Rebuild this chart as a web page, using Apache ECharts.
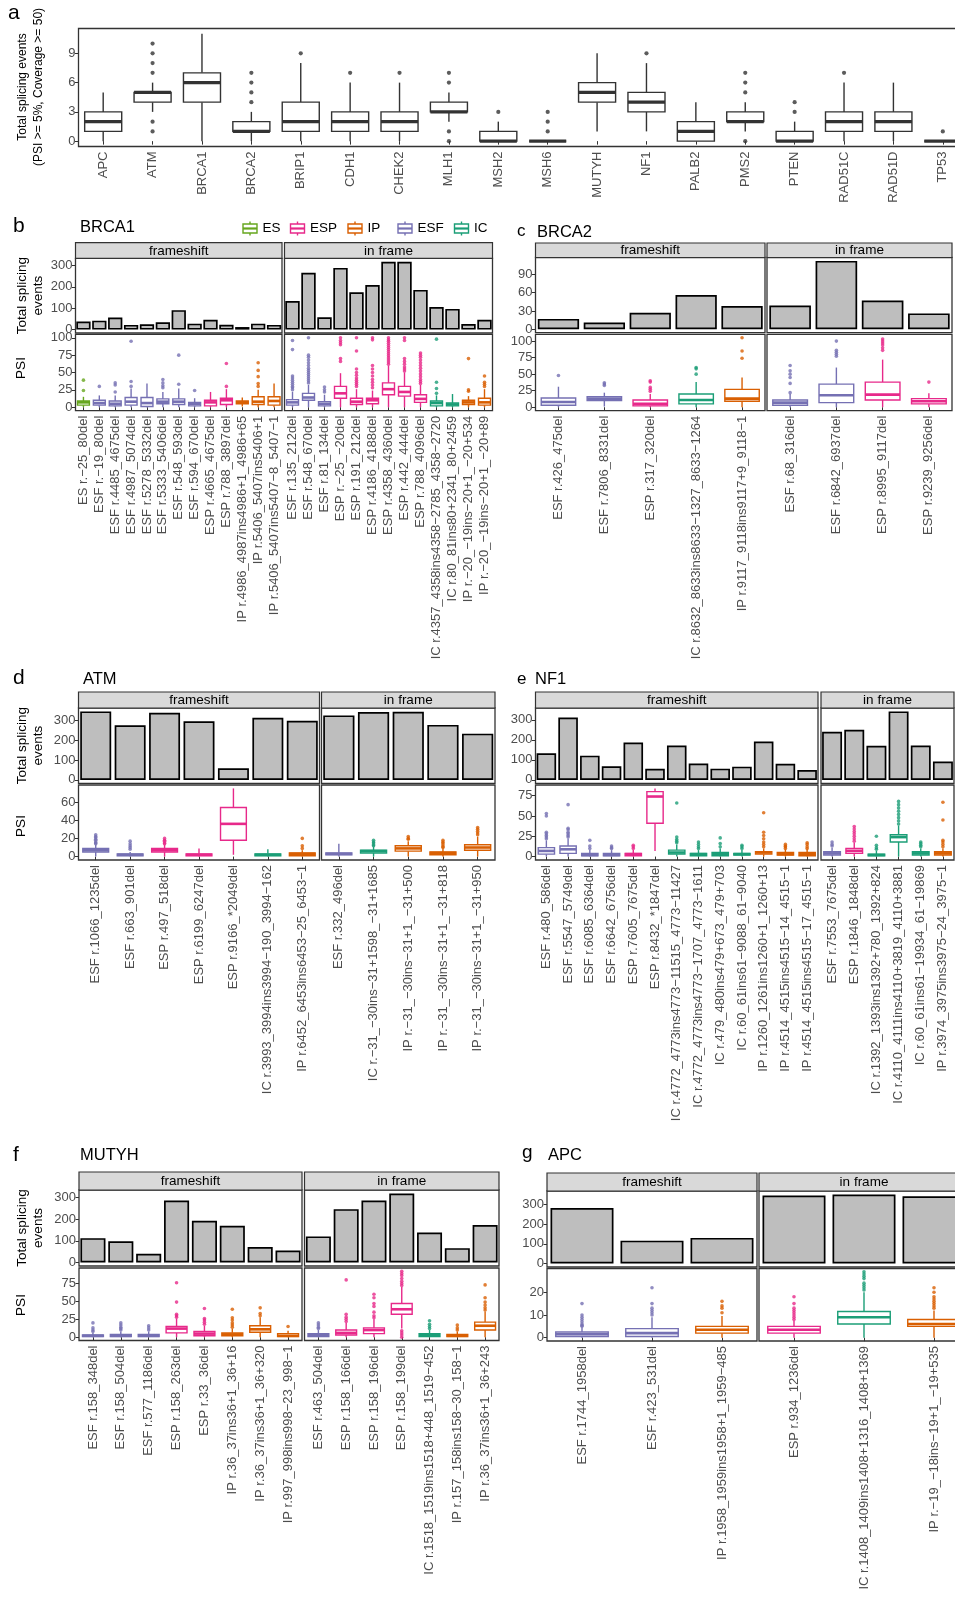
<!DOCTYPE html>
<html><head><meta charset="utf-8">
<script src="https://cdn.jsdelivr.net/npm/echarts@6/dist/echarts.min.js"></script>
<style>html,body{margin:0;padding:0;background:#fff}#c{width:955px;height:1600px}</style>
</head><body><div id="c"></div>
<script>
// ---------------- DATA ----------------
// Panel a
const aGenes = ['APC','ATM','BRCA1','BRCA2','BRIP1','CDH1','CHEK2','MLH1','MSH2','MSH6','MUTYH','NF1','PALB2','PMS2','PTEN','RAD51C','RAD51D','TP53'];
const aBoxes = [[0,1,2,3,5],[3,4,5,5,6],[0,4,6,7,11],[0,1,1,2,3],[0,1,2,4,8],[0,1,2,3,6],[0,1,2,3,6],[2,3,3,4,5],[0,0,0,1,2],[0,0,0,0,0],[1,4,5,6,9],[1,3,4,5,8],[0,0,1,2,4],[1,2,2,3,4],[0,0,0,1,2],[0,1,2,3,6],[0,1,2,3,6],[0,0,0,0,0]];
const aOutliers = [[],[1,2,7,8,9,10],[],[4,5,6,7],[9],[7],[7],[0,1,6,7],[3],[1,2,3],[],[9],[],[0,5,6,7],[3,4],[7],[],[1]];
const aTicks = [0,3,6,9];

// Panel b: BRCA1
const brca1FsLabels = ['ES r.−25_80del','ESF r.−19_80del','ESF r.4485_4675del','ESF r.4987_5074del','ESF r.5278_5332del','ESF r.5333_5406del','ESF r.548_593del','ESF r.594_670del','ESP r.4665_4675del','ESP r.788_3897del','IP r.4986_4987ins4986+1_4986+65','IP r.5406_5407ins5406+1','IP r.5406_5407ins5407−8_5407−1'];
const brca1FsTotals = [38,42,57,22,25,34,91,28,46,23,12,28,22];
const brca1FsBoxes = [[0,3,7,9,15],[0,3,6,10,17],[0,2,5,9,17],[0,3,8,14,27],[0,1,6,14,34],[0,5,8,12,22],[0,4,8,12,27],[0,2,5,7,13],[0,2,7,10,22],[0,4,10,13,26],[1,5,7,9,14],[0,4,8,15,25],[0,3,9,15,34]];
const brca1FsOutliers = [[24,39],[30],[22,32,35],[30,37,95],[],[28,31,35,40],[33,75],[24],[],[30,63],[],[30,34,44,53,64],[]];
const brca1IfLabels = ['ESF r.135_212del','ESF r.548_670del','ESF r.81_134del','ESP r.−25_−20del','ESP r.191_212del','ESP r.4186_4188del','ESP r.4358_4360del','ESP r.442_444del','ESP r.788_4096del','IC r.4357_4358ins4358−2785_4358−2720','IC r.80_81ins80+2341_80+2459','IP r.−20_−19ins−20+1_−20+534','IP r.−20_−19ins−20+1_−20+89'];
const brca1IfTotals = [134,266,58,289,175,209,318,318,186,106,97,26,46];
const brca1IfBoxes = [[0,3,7,11,22],[0,10,14,20,32],[0,2,5,8,18],[0,13,20,30,49],[0,4,8,13,26],[0,5,10,13,24],[0,18,26,35,60],[0,16,22,30,50],[0,7,12,18,32],[0,2,6,9,17],[0,2,4,6,19],[0,4,7,10,16],[0,3,7,13,26]];
const brca1IfOutliers = [[25,28,30,33,36,39,42,45,83,96],[35,38,41,44,47,50,53,56,60,64,68,72,75,100],[22,25,29],[66,70,90,93,96,100],[30,33,36,39,42,46,50,55,81,100],[28,32,36,40,45,50,55,60,97,100],[62,65,68,71,74,77,80,83,86,89,92,95,97,100],[52,55,58,62,66,70,96,100],[34,37,40,44,48,52,56,60,64,68,72,75,78],[20,27,36,98],[],[23,25,70],[30,33,36,45]];

// Panel c: BRCA2
const brca2FsLabels = ['ESF r.426_475del','ESF r.7806_8331del','ESP r.317_320del','IC r.8632_8633ins8633−1327_8633−1264','IP r.9117_9118ins9117+9_9118−1'];
const brca2FsTotals = [17,11,27,56,38];
const brca2FsBoxes = [[0,3,8,14,31],[1,10,13,16,22],[0,2,5,11,20],[0,5,11,20,38],[0,9,13,27,45]];
const brca2FsOutliers = [[48],[33,35,37],[24,27,30,38,40],[50,58,60],[74,85,105]];
const brca2IfLabels = ['ESF r.68_316del','ESF r.6842_6937del','ESP r.8995_9117del','ESP r.9239_9256del'];
const brca2IfTotals = [39,112,47,26];
const brca2IfBoxes = [[0,3,7,11,20],[0,7,18,35,60],[0,11,19,38,72],[0,5,9,13,21]];
const brca2IfOutliers = [[22,36,45,50,55,63],[77,80,83,86,100],[86,90,94,97,100,103],[38]];

// Panel d: ATM
const atmFsLabels = ['ESF r.1066_1235del','ESF r.663_901del','ESP r.497_518del','ESP r.6199_6247del','ESP r.9166_*2049del','IC r.3993_3994ins3994−190_3994−162','IP r.6452_6453ins6453−25_6453−1'];
const atmFsTotals = [345,275,338,295,58,313,298];
const atmFsBoxes = [[0,5,7,9,13],[0,1,2,3,5],[0,5,7,9,13],[0,1,2,3,9],[2,18,36,54,75],[0,1,2,3,8],[0,1,3,4,7]];
const atmFsOutliers = [[14,15,16,18,19,21,22,24],[8,10,12,14,17],[14,15,17,18,20],[],[],[],[9,12,20]];
const atmIfLabels = ['ESF r.332_496del','IC r.−31_−30ins−31+1598_−31+1685','IP r.−31_−30ins−31+1_−31+500','IP r.−31_−30ins−31+1_−31+818','IP r.−31_−30ins−31+1_−31+950'];
const atmIfTotals = [325,342,343,277,233];
const atmIfBoxes = [[0,2,3,4,14],[0,4,6,7,11],[0,6,9,12,17],[0,2,4,5,9],[0,7,10,13,22]];
const atmIfOutliers = [[],[12,13,15,16,18],[19,20,22],[10,11,13,15,16,18],[24,26,28,30,32]];

// Panel e: NF1
const nf1FsLabels = ['ESF r.480_586del','ESF r.5547_5749del','ESF r.6085_6364del','ESF r.6642_6756del','ESP r.7605_7675del','ESP r.8432_*1847del','IC r.4772_4773ins4773−11515_4773−11427','IC r.4772_4773ins4773−1707_4773−1611','IC r.479_480ins479+673_479+703','IC r.60_61ins61−9088_61−9040','IP r.1260_1261ins1260+1_1260+13','IP r.4514_4515ins4515−14_4515−1','IP r.4514_4515ins4515−17_4515−1'];
const nf1FsTotals = [133,312,121,68,187,55,172,82,56,66,192,80,49];
const nf1FsBoxes = [[0,3,7,11,20],[0,4,9,13,22],[0,1,2,4,8],[0,1,2,4,8],[0,1,3,4,8],[7,41,74,80,84],[0,3,5,8,15],[0,1,3,4,8],[0,1,3,5,10],[0,2,3,4,8],[0,3,5,6,10],[0,2,3,5,9],[0,1,3,5,9]];
const nf1FsOutliers = [[22,24,26,28,30,50,53],[24,26,28,30,33,35,64],[10,13,20],[10,11,13],[10,12,14],[],[17,19,21,24,66],[10,12,15,18],[12,16,23],[10,12,14],[12,15,18,22,26,30,54],[10,12,13,15],[10,12,15,17]];
const nf1IfLabels = ['ESF r.7553_7675del','ESP r.1846_1848del','IC r.1392_1393ins1392+780_1392+824','IC r.4110_4111ins4110+3819_4110+3881','IC r.60_61ins61−19934_61−19869','IP r.3974_3975ins3975−24_3975−1'];
const nf1IfTotals = [240,250,170,342,172,92];
const nf1IfBoxes = [[0,2,4,6,11],[0,4,7,10,17],[0,1,2,3,7],[0,18,24,27,38],[0,2,4,6,10],[0,2,4,6,10]];
const nf1IfOutliers = [[13,15,18],[19,22,25,28,31,34,37],[9,11,14,25],[40,44,48,52,56,60,64,68],[12,14,16,18],[12,15,18,20,45,67]];

// Panel f: MUTYH
const mutyhFsLabels = ['ESF r.158_348del','ESF r.158_504del','ESF r.577_1186del','ESP r.158_263del','ESP r.33_36del','IP r.36_37ins36+1_36+16','IP r.36_37ins36+1_36+320','IP r.997_998ins998−23_998−1'];
const mutyhFsTotals = [112,98,40,285,192,169,71,55];
const mutyhFsBoxes = [[0,1,2,3,6],[0,1,2,4,8],[0,1,2,4,8],[0,6,12,15,26],[0,2,5,8,16],[0,2,4,6,12],[0,7,11,16,28],[0,1,2,5,9]];
const mutyhFsOutliers = [[8,10,13,20],[10,12,14,17,20],[10,13,16],[28,30,32,49,76],[18,21,24,26,40],[14,17,20,24,27,39],[30,33,41],[15]];
const mutyhIfLabels = ['ESF r.463_504del','ESP r.158_166del','ESP r.158_196del','ESP r.158_199del','IC r.1518_1519ins1518+448_1519−452','IP r.157_158ins158−30_158−1','IP r.36_37ins36+1_36+243'];
const mutyhIfTotals = [120,245,285,317,138,66,172];
const mutyhIfBoxes = [[0,1,3,5,10],[0,3,6,10,20],[0,5,10,13,25],[12,32,39,47,70],[0,1,3,5,10],[0,1,2,4,8],[0,10,16,21,36]];
const mutyhIfOutliers = [[12,14,17,20],[22,25,28,32,80],[27,30,35,43,47,55,60],[0,3,6,9,72,75,78,82,86,89,92],[12,15,18,23],[10,13,17],[38,41,45,49,55,73]];

// Panel g: APC
const apcFsLabels = ['ESF r.1744_1958del','ESF r.423_531del','IP r.1958_1959ins1958+1_1959−485'];
const apcFsTotals = [281,116,130];
const apcFsBoxes = [[0,0.5,1.5,2.5,4.5],[0,0.5,2,4,9],[0,2,3.5,5,9.5]];
const apcFsOutliers = [[5,5.5,6,7,8,9,10,15],[10,11,12,13,15,22],[11,13,14,16]];
const apcIfLabels = ['ESP r.934_1236del','IC r.1408_1409ins1408+1316_1408+1369','IP r.−19_−18ins−19+1_−19+535'];
const apcIfTotals = [345,350,341];
const apcIfBoxes = [[0,2,3.5,5,7.5],[0,6,9,11.5,20],[0,5,6,8,12]];
const apcIfOutliers = [[8,9,10,11,12,13,15,18],[21,22,23,24,26,27,28,29],[13,14,15,16,17,18,20,22]];

// tick labels
const countTicks = [0,100,200,300];
const brca2CountTicks = [0,30,60,90];
const psiTicks100 = [0,25,50,75,100];
const atmPsiTicks = [0,20,40,60];
const psiTicks75 = [0,25,50,75];
const apcPsiTicks = [0,10,20];
const facetNames = ['frameshift','in frame'];
const legendTypes = ['ES','ESP','IP','ESF','IC'];

// ---------------- BUILD ----------------
const FONT = '"Liberation Sans", Arial, sans-serif';
const TYPE_COLORS = {ES:'#66A61E', ESP:'#E7298A', IP:'#D95F02', ESF:'#7570B3', IC:'#1B9E77'};
const typeOf = l => l.split(' ')[0];
const grids = [], xAxes = [], yAxes = [], series = [], graphics = [];

function boxRenderer(frac, lw, medLw) {
  return function (params, api) {
    const i = api.value(0);
    const col = api.visual('color');
    const pMin = api.coord([i, api.value(1)]);
    const pQ1 = api.coord([i, api.value(2)]);
    const pMed = api.coord([i, api.value(3)]);
    const pQ3 = api.coord([i, api.value(4)]);
    const pMax = api.coord([i, api.value(5)]);
    const bw = api.size([1, 0])[0] * frac;
    const x = pQ1[0];
    return { type: 'group', children: [
      { type: 'line', shape: { x1: x, y1: pMin[1], x2: x, y2: pQ1[1] }, style: { stroke: col, lineWidth: lw } },
      { type: 'line', shape: { x1: x, y1: pQ3[1], x2: x, y2: pMax[1] }, style: { stroke: col, lineWidth: lw } },
      { type: 'rect', shape: { x: x - bw / 2, y: pQ3[1], width: bw, height: pQ1[1] - pQ3[1] }, style: { fill: '#fff', stroke: col, lineWidth: lw } },
      { type: 'line', shape: { x1: x - bw / 2, y1: pMed[1], x2: x + bw / 2, y2: pMed[1] }, style: { stroke: col, lineWidth: medLw } }
    ]};
  };
}

function addGrid(left, top, width, height) {
  grids.push({ left, top, width, height, show: true, borderColor: '#333', borderWidth: 1.3,
    backgroundColor: 'transparent', containLabel: false, outerBoundsMode: 'none' });
  return grids.length - 1;
}

function valueAxis(gi, range, ticks, showLabels, fs) {
  return { gridIndex: gi, type: 'value', min: range[0], max: range[1], scale: false,
    splitLine: { show: false }, axisLine: { show: false },
    axisTick: { show: showLabels, length: 3.5, customValues: ticks, lineStyle: { color: '#333', width: 1 } },
    axisLabel: { show: showLabels, customValues: ticks, fontSize: fs, color: '#4D4D4D', margin: 3, fontFamily: FONT } };
}

function addText(text, x, y, size, o) {
  o = o || {};
  graphics.push({ type: 'text', x, y, rotation: o.rot || 0, silent: true,
    style: { text, font: size + 'px ' + FONT, fill: o.color || '#000', align: o.align || 'left',
      verticalAlign: 'middle', lineHeight: o.lh || size * 1.2 } });
}

function addFacet(f, p, barRange, psiRange, first, k) {
  const gb = addGrid(f.x, p.bar[0], f.w, p.bar[1] - p.bar[0]);
  xAxes.push({ gridIndex: gb, type: 'category', data: f.labels, axisLine: { show: false }, axisTick: { show: false }, axisLabel: { show: false } });
  yAxes.push(valueAxis(gb, barRange, p.barTicks, first, 13));
  series.push({ type: 'bar', xAxisIndex: gb, yAxisIndex: gb, data: f.totals, barCategoryGap: '10%', silent: true,
    itemStyle: { color: '#BEBEBE', borderColor: '#000', borderWidth: 1.7 } });

  const gp = addGrid(f.x, p.psi[0], f.w, p.psi[1] - p.psi[0]);
  xAxes.push({ gridIndex: gp, type: 'category', data: f.labels, axisLine: { show: false },
    axisTick: { show: true, alignWithLabel: true, length: 3.5, lineStyle: { color: '#333', width: 1 } },
    axisLabel: { interval: 0, rotate: 90, fontSize: 13, color: '#4D4D4D', margin: 5, fontFamily: FONT } });
  yAxes.push(valueAxis(gp, psiRange, p.psiTicks, first, 13));
  const pts = [];
  f.outliers.forEach((arr, i) => arr.forEach(v => pts.push({ value: [i, v], itemStyle: { color: TYPE_COLORS[typeOf(f.labels[i])] } })));
  series.push({ type: 'scatter', xAxisIndex: gp, yAxisIndex: gp, data: pts, symbolSize: 3.6, silent: true });
  series.push({ type: 'custom', xAxisIndex: gp, yAxisIndex: gp, renderItem: boxRenderer(0.75, 1.4, 2.6), silent: true,
    encode: { x: 0, y: [1, 2, 3, 4, 5] },
    data: f.boxes.map((b, i) => ({ value: [i].concat(b), itemStyle: { color: TYPE_COLORS[typeOf(f.labels[i])] } })) });

  graphics.push({ type: 'rect', silent: true, shape: { x: f.x, y: p.strip[0], width: f.w, height: p.strip[1] - p.strip[0] },
    style: { fill: '#D9D9D9', stroke: '#333', lineWidth: 1.2 } });
  addText(facetNames[k], f.x + f.w / 2, (p.strip[0] + p.strip[1]) / 2 + 0.5, 13.5, { align: 'center' });
}

function addPanel(p) {
  const all = [p.fs, p.inf];
  const barMax = Math.max(...all.flatMap(f => f.totals));
  const psiMax = Math.max(...all.flatMap(f => f.boxes.map(b => b[4]).concat(f.outliers.flat())));
  const barRange = [-0.05 * barMax, 1.05 * barMax];
  const psiRange = [-0.05 * psiMax, 1.05 * psiMax];
  all.forEach((f, k) => addFacet(f, p, barRange, psiRange, k === 0, k));
  addText(p.letter, p.letterPos[0], p.letterPos[1], p.letterSize);
  addText(p.title, p.titlePos[0], p.titlePos[1], 16.5);
  if (p.yTitles) {
    addText('Total splicing\nevents', 30, (p.bar[0] + p.bar[1]) / 2, 13.5, { rot: Math.PI / 2, align: 'center', lh: 16.3 });
    addText('PSI', 21.7, p.psiTitleY, 13.5, { rot: Math.PI / 2, align: 'center' });
  }
}

// Panel a
(function () {
  const g = addGrid(78.5, 28.5, 889, 118);
  xAxes.push({ gridIndex: g, type: 'category', data: aGenes, axisLine: { show: false },
    axisTick: { show: true, alignWithLabel: true, length: 3.5, lineStyle: { color: '#333' } },
    axisLabel: { interval: 0, rotate: 90, fontSize: 13, color: '#4D4D4D', margin: 5, fontFamily: FONT } });
  const m = Math.max(...aBoxes.map(b => b[4]).concat(aOutliers.flat()));
  yAxes.push(valueAxis(g, [-0.05 * m, 1.05 * m], aTicks, true, 13));
  const pts = [];
  aOutliers.forEach((arr, i) => arr.forEach(v => pts.push([i, v])));
  series.push({ type: 'scatter', xAxisIndex: g, yAxisIndex: g, data: pts, symbolSize: 4.2, itemStyle: { color: '#333' }, silent: true });
  series.push({ type: 'custom', xAxisIndex: g, yAxisIndex: g, renderItem: boxRenderer(0.75, 1.4, 3.2), silent: true,
    encode: { x: 0, y: [1, 2, 3, 4, 5] }, itemStyle: { color: '#333' },
    data: aBoxes.map((b, i) => [i].concat(b)) });
  addText('a', 8, 13, 21);
  addText('Total splicing events\n(PSI >= 5%, Coverage >= 50)', 30.5, 87, 12, { rot: Math.PI / 2, align: 'center', lh: 16 });
})();

addPanel({ letter: 'b', letterPos: [13, 226], letterSize: 21, title: 'BRCA1', titlePos: [80, 227],
  fs: { labels: brca1FsLabels, totals: brca1FsTotals, boxes: brca1FsBoxes, outliers: brca1FsOutliers, x: 75.5, w: 206.5 },
  inf: { labels: brca1IfLabels, totals: brca1IfTotals, boxes: brca1IfBoxes, outliers: brca1IfOutliers, x: 284.5, w: 208 },
  strip: [242.7, 258.3], bar: [258.3, 333], psi: [334.3, 410.7], barTicks: countTicks, psiTicks: psiTicks100,
  yTitles: true, psiTitleY: 368 });
addPanel({ letter: 'c', letterPos: [517, 231], letterSize: 17, title: 'BRCA2', titlePos: [537, 232],
  fs: { labels: brca2FsLabels, totals: brca2FsTotals, boxes: brca2FsBoxes, outliers: brca2FsOutliers, x: 535.5, w: 229.5 },
  inf: { labels: brca2IfLabels, totals: brca2IfTotals, boxes: brca2IfBoxes, outliers: brca2IfOutliers, x: 767, w: 185 },
  strip: [243, 257.5], bar: [257.5, 332.7], psi: [334.3, 410.7], barTicks: brca2CountTicks, psiTicks: psiTicks100,
  yTitles: false });
addPanel({ letter: 'd', letterPos: [13, 678], letterSize: 21, title: 'ATM', titlePos: [83, 679],
  fs: { labels: atmFsLabels, totals: atmFsTotals, boxes: atmFsBoxes, outliers: atmFsOutliers, x: 78.5, w: 241 },
  inf: { labels: atmIfLabels, totals: atmIfTotals, boxes: atmIfBoxes, outliers: atmIfOutliers, x: 321.5, w: 173.5 },
  strip: [692, 708], bar: [708, 783.3], psi: [785, 860], barTicks: countTicks, psiTicks: atmPsiTicks,
  yTitles: true, psiTitleY: 826 });
addPanel({ letter: 'e', letterPos: [517, 679], letterSize: 17, title: 'NF1', titlePos: [535, 679],
  fs: { labels: nf1FsLabels, totals: nf1FsTotals, boxes: nf1FsBoxes, outliers: nf1FsOutliers, x: 535.5, w: 282.5 },
  inf: { labels: nf1IfLabels, totals: nf1IfTotals, boxes: nf1IfBoxes, outliers: nf1IfOutliers, x: 821, w: 133 },
  strip: [692, 708], bar: [708, 783.3], psi: [785, 860], barTicks: countTicks, psiTicks: psiTicks75,
  yTitles: false });
addPanel({ letter: 'f', letterPos: [13, 1155], letterSize: 21, title: 'MUTYH', titlePos: [80, 1155],
  fs: { labels: mutyhFsLabels, totals: mutyhFsTotals, boxes: mutyhFsBoxes, outliers: mutyhFsOutliers, x: 79, w: 223 },
  inf: { labels: mutyhIfLabels, totals: mutyhIfTotals, boxes: mutyhIfBoxes, outliers: mutyhIfOutliers, x: 304.5, w: 194.5 },
  strip: [1172, 1190], bar: [1190, 1266], psi: [1268, 1340.5], barTicks: countTicks, psiTicks: psiTicks75,
  yTitles: true, psiTitleY: 1305 });
addPanel({ letter: 'g', letterPos: [522, 1153], letterSize: 19, title: 'APC', titlePos: [548, 1155],
  fs: { labels: apcFsLabels, totals: apcFsTotals, boxes: apcFsBoxes, outliers: apcFsOutliers, x: 547, w: 210 },
  inf: { labels: apcIfLabels, totals: apcIfTotals, boxes: apcIfBoxes, outliers: apcIfOutliers, x: 759, w: 210 },
  strip: [1173, 1191], bar: [1191, 1267], psi: [1268.5, 1341], barTicks: countTicks, psiTicks: apcPsiTicks,
  yTitles: false });

// Legend (panel b)
const legendIconX = [250, 297.5, 355, 405, 461.5];
legendTypes.forEach((t, i) => {
  const cx = legendIconX[i], cy = 228.5, col = TYPE_COLORS[t];
  graphics.push({ type: 'line', silent: true, shape: { x1: cx, y1: cy - 7, x2: cx, y2: cy + 7 }, style: { stroke: col, lineWidth: 1.4 } });
  graphics.push({ type: 'rect', silent: true, shape: { x: cx - 7, y: cy - 4.5, width: 14, height: 9 }, style: { fill: '#fff', stroke: col, lineWidth: 1.4 } });
  graphics.push({ type: 'line', silent: true, shape: { x1: cx - 7, y1: cy, x2: cx + 7, y2: cy }, style: { stroke: col, lineWidth: 2.2 } });
  addText(t, cx + 12.5, cy, 13.5);
});

const chart = echarts.init(document.getElementById('c'), null, { renderer: 'canvas' });
chart.setOption({
  animation: false,
  backgroundColor: '#fff',
  textStyle: { fontFamily: FONT },
  grid: grids, xAxis: xAxes, yAxis: yAxes, series: series,
  graphic: { elements: graphics }
});
</script></body></html>
